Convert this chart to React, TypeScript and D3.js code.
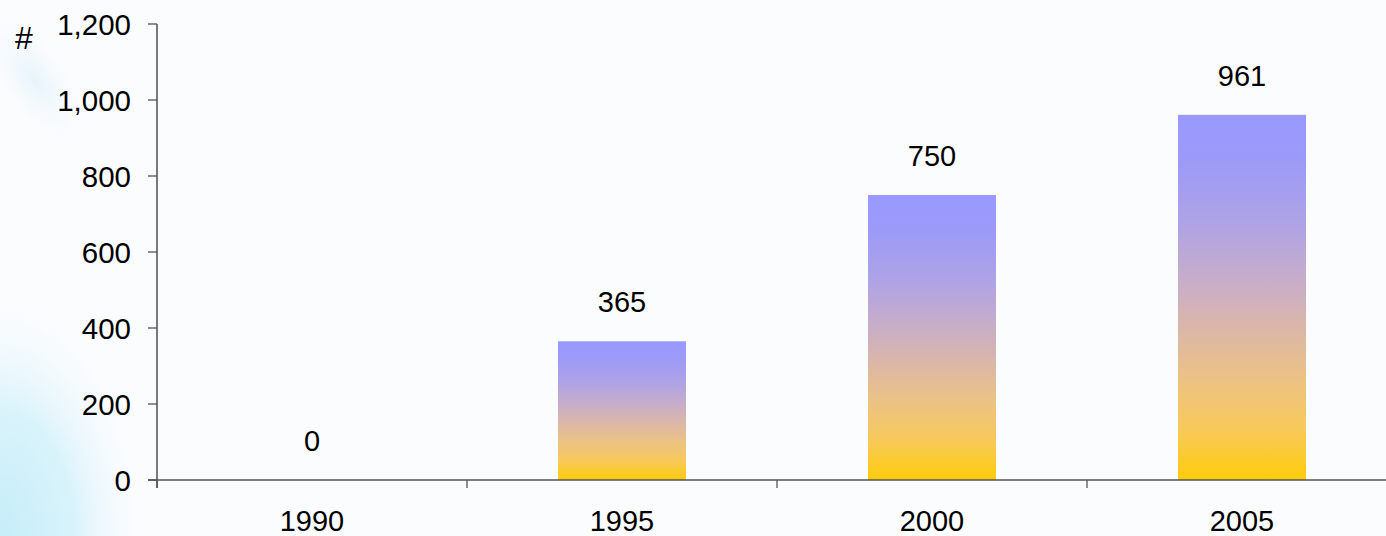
import React from "react";
import * as d3 from "d3";

const years = ["1990", "1995", "2000", "2005"];
const counts = [0, 365, 750, 961];
const yTicks = [0, 200, 400, 600, 800, 1000, 1200];

const W = 1386;
const H = 536;
const left = 157;
const bandW = 310;
const y0 = 480;
const yTop = 24;

const x = d3
  .scaleBand<string>()
  .domain(years)
  .range([left, left + bandW * years.length])
  .paddingInner(0.587)
  .paddingOuter(0.2935);

const y = d3.scaleLinear().domain([0, 1200]).range([y0, yTop]);
const fmt = d3.format(",");

const font = "'Liberation Sans', Arial, Helvetica, sans-serif";

export default function App() {
  const boundaries = d3.range(years.length + 1).map((i) => left + i * bandW);
  return (
    <svg
      width={W}
      height={H}
      style={{ position: "absolute", left: 0, top: 0, display: "block" }}
    >
      <defs>
        <linearGradient id="barFill" x1="0" y1="0" x2="0" y2="1">
          <stop offset="0" stopColor="#9999ff" />
          <stop offset="0.12" stopColor="#9c9af8" />
          <stop offset="0.3" stopColor="#afa3e6" />
          <stop offset="0.45" stopColor="#c6adca" />
          <stop offset="0.58" stopColor="#dab6aa" />
          <stop offset="0.72" stopColor="#ebc285" />
          <stop offset="0.86" stopColor="#f7c95a" />
          <stop offset="1" stopColor="#ffcc0a" />
        </linearGradient>
        <radialGradient
          id="bgLow"
          gradientUnits="userSpaceOnUse"
          cx={0}
          cy={H}
          r={1}
          gradientTransform={`translate(0,${H}) scale(150,250) translate(0,${-H})`}
        >
          <stop offset="0" stopColor="#c6edf9" />
          <stop offset="0.5" stopColor="#d9f3fb" />
          <stop offset="1" stopColor="#fbfcfe" stopOpacity="0" />
        </radialGradient>
        <radialGradient
          id="bgHigh"
          gradientUnits="userSpaceOnUse"
          cx={0}
          cy={0}
          r={1}
          gradientTransform="translate(35,80) rotate(55) scale(85,40)"
        >
          <stop offset="0" stopColor="#e6f4fb" />
          <stop offset="1" stopColor="#fbfcfe" stopOpacity="0" />
        </radialGradient>
      </defs>

      <rect x={0} y={0} width={W} height={H} fill="#fbfcfe" />
      <rect x={0} y={0} width={W} height={H} fill="url(#bgLow)" />
      <rect x={0} y={0} width={W} height={H} fill="url(#bgHigh)" />

      {/* bars */}
      {counts.map((v, i) =>
        v > 0 ? (
          <rect
            key={years[i]}
            x={x(years[i])}
            y={y(v)}
            width={x.bandwidth()}
            height={y0 - y(v)}
            fill="url(#barFill)"
          />
        ) : null
      )}

      {/* value labels */}
      {counts.map((v, i) => (
        <text
          key={"v" + years[i]}
          x={(x(years[i]) as number) + x.bandwidth() / 2}
          y={y(v) - 29}
          textAnchor="middle"
          fontFamily={font}
          fontSize={29}
          fill="#000"
        >
          {fmt(v)}
        </text>
      ))}

      {/* y axis */}
      <line x1={left} x2={left} y1={yTop} y2={y0 + 8} stroke="#333" strokeWidth={1.3} />
      {yTicks.map((t) => (
        <g key={t}>
          <line x1={left - 9} x2={left} y1={y(t)} y2={y(t)} stroke="#555" strokeWidth={1.3} />
          <text
            x={131}
            y={y(t) + 10.5}
            textAnchor="end"
            fontFamily={font}
            fontSize={29.5}
            fill="#000"
          >
            {fmt(t)}
          </text>
        </g>
      ))}
      <text x={15} y={49} fontFamily={font} fontSize={32} fill="#000">
        #
      </text>

      {/* x axis */}
      <line x1={left - 9} x2={W} y1={y0} y2={y0} stroke="#555" strokeWidth={1.3} />
      {boundaries.map((b) => (
        <line key={b} x1={b} x2={b} y1={y0} y2={y0 + 8} stroke="#555" strokeWidth={1.3} />
      ))}
      {years.map((yr) => (
        <text
          key={"x" + yr}
          x={(x(yr) as number) + x.bandwidth() / 2}
          y={531}
          textAnchor="middle"
          fontFamily={font}
          fontSize={29}
          fill="#000"
        >
          {yr}
        </text>
      ))}
    </svg>
  );
}
